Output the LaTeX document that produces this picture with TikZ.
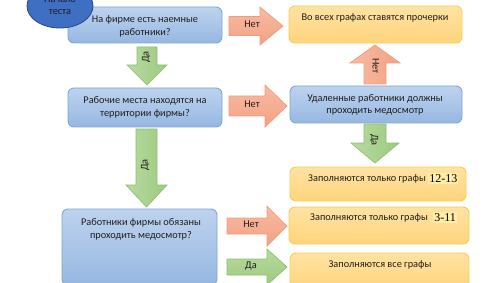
\documentclass[tikz,border=0pt]{standalone}
\usepackage{fontspec}
\setmainfont{Carlito}
\newfontfamily\numfont{Liberation Serif}
\usetikzlibrary{shapes.geometric}
\definecolor{bTop}{HTML}{BDD3EE}
\definecolor{bBot}{HTML}{96B7E2}
\definecolor{bDraw}{HTML}{7EA6D8}
\definecolor{oTop}{HTML}{FFE3A3}
\definecolor{oBot}{HTML}{FFD47C}
\definecolor{oDraw}{HTML}{FFCB4F}
\definecolor{oHi}{HTML}{FFEDA8}
\definecolor{sTop}{HTML}{F7BBA3}
\definecolor{sBot}{HTML}{F3A184}
\definecolor{sDraw}{HTML}{F19C7A}
\definecolor{gTop}{HTML}{B8DA9F}
\definecolor{gBot}{HTML}{9DCA80}
\definecolor{gDraw}{HTML}{8DC06E}
\definecolor{eFill}{HTML}{3F6FC2}
\definecolor{eDraw}{HTML}{2B4E8F}
\newcommand\myHArrow[7]{% style, y, x0, xb, x1, s, h
  \path[#1] (#3,#2-#6) -- (#4,#2-#6) -- (#4,#2-#7) -- (#5,#2) -- (#4,#2+#7) -- (#4,#2+#6) -- (#3,#2+#6) -- cycle;}
\newcommand\myVArrow[7]{% style, x, y0, yb, y1, s, h
  \path[#1] (#2-#6,#3) -- (#2-#6,#4) -- (#2-#7,#4) -- (#2,#5) -- (#2+#7,#4) -- (#2+#6,#4) -- (#2+#6,#3) -- cycle;}
\tikzset{
  bluebox/.style={rectangle, rounded corners=6pt, draw=bDraw, line width=0.9pt, top color=bTop, bottom color=bBot, inner sep=0pt},
  orbox/.style={rectangle, rounded corners=6pt, draw=oDraw, line width=0.9pt, top color=oTop, bottom color=oBot, inner sep=0pt},
  salarrow/.style={draw=sDraw, line width=0.7pt, top color=sTop, bottom color=sBot},
  salvarrow/.style={draw=sDraw, line width=0.7pt, left color=sTop, right color=sBot},
  grarrow/.style={draw=gDraw, line width=0.7pt, top color=gTop, bottom color=gBot},
  grvarrow/.style={draw=gDraw, line width=0.7pt, left color=gTop, right color=gBot},
  txt/.style={inner sep=0pt, align=center, font=\fontsize{10.3}{12.5}\selectfont, text=black!88},
  hi/.style={fill=oHi, inner sep=1pt},
}
\begin{document}
\begin{tikzpicture}[x=1pt,y=-1pt]
\useasboundingbox (0,0) rectangle (502,283);
% boxes
\node[bluebox, minimum width=154pt, minimum height=36pt] (b1) at (145,25) {};
\node[orbox, minimum width=173pt, minimum height=37pt] (b2) at (375.5,24.5) {};
\node[bluebox, minimum width=154pt, minimum height=39pt] (b3) at (145,107.5) {};
\node[bluebox, minimum width=172pt, minimum height=37pt] (b4) at (376,104.5) {};
\node[bluebox, minimum width=155pt, minimum height=76pt] (b5) at (139.5,247) {};
\node[orbox, minimum width=176pt, minimum height=34pt] (b6) at (378,184) {};
\node[orbox, minimum width=180pt, minimum height=37pt] (b7) at (379,225.5) {};
\node[orbox, minimum width=179pt, minimum height=37pt] (b8) at (379.5,271.5) {};
% start ellipse
\node[ellipse, draw=eDraw, line width=0.9pt, fill=eFill, minimum width=66pt, minimum height=44pt, inner sep=0pt] (st) at (60,6) {};
\node[txt] (stt) at (60,5) {Начало\\теста};
% arrows
\myHArrow{salarrow}{26}{229}{260}{283}{9.5}{19}
\myHArrow{salarrow}{106}{229}{265}{287}{10}{21}
\myHArrow{salarrow}{226}{227}{267}{287}{8}{20}
\myHArrow{grarrow}{267}{227}{267}{287}{8}{18}
\myVArrow{grvarrow}{147}{47}{65}{85}{10}{20}
\myVArrow{grvarrow}{146.5}{129}{185}{207}{10.5}{20.5}
\myVArrow{salvarrow}{375}{84}{63}{45}{11}{25}
\myVArrow{grvarrow}{375}{124}{143}{163}{11}{24}
% arrow labels
\node[txt] (l1) at (252,24.5) {Нет};
\node[txt] (l2) at (252,104) {Нет};
\node[txt] (l3) at (251,224) {Нет};
\node[txt] (l4) at (251,266) {Да};
\node[txt, rotate=90] (l5) at (146,57) {Да};
\node[txt, rotate=90] (l6) at (145,165) {Да};
\node[txt, rotate=-90] (l7) at (376,66) {Нет};
\node[txt, rotate=-90] (l8) at (374,140) {Да};
% box texts
\node[txt] (t1) at (145,26.5) {На фирме есть наемные\\работники?};
\node[txt] (t2) at (375,18) {Во всех графах ставятся прочерки};
\node[txt] (t3) at (145,107.5) {Рабочие места находятся на\\территории фирмы?};
\node[txt] (t4) at (375,105) {Удаленные работники должны\\проходить медосмотр};
\node[txt] (t5) at (141,229.5) {Работники фирмы обязаны\\проходить медосмотр?};
\node[txt, anchor=west] (t6) at (308,178.5) {Заполняются только графы};
\node[hi, anchor=west, font=\numfont\fontsize{12}{14}\selectfont] (n6) at ([xshift=2pt]t6.east) {12-13};
\node[txt, anchor=west] (t7) at (310,217.5) {Заполняются только графы};
\node[hi, anchor=west, font=\numfont\fontsize{12}{14}\selectfont] (n7) at ([xshift=5pt]t7.east) {3-11\hspace{6pt}};
\node[txt] (t8) at (380,265) {Заполняются все графы};
\end{tikzpicture}
\end{document}
